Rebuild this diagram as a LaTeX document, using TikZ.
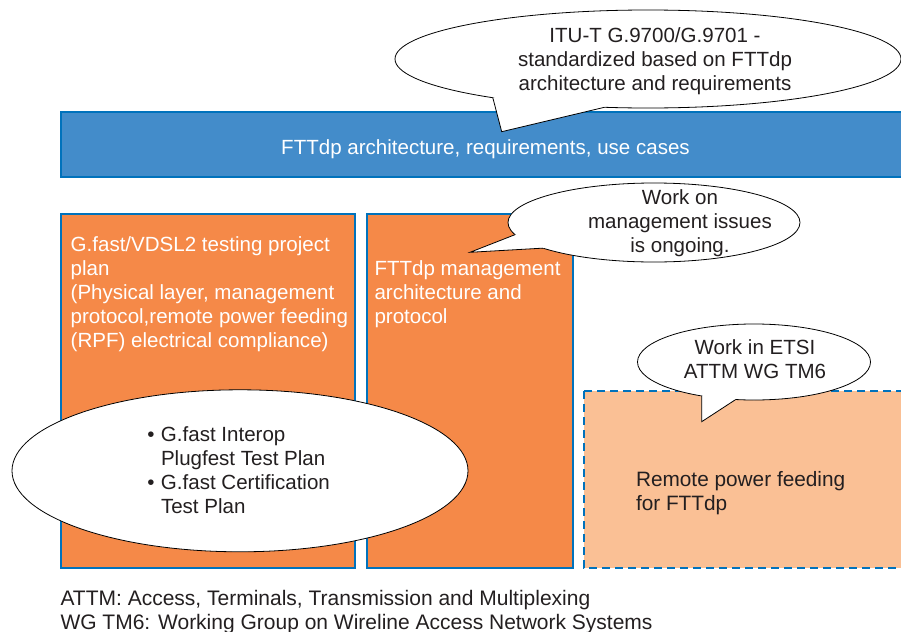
\documentclass[tikz,border=0pt]{standalone}
\usepackage{fontspec}
\setmainfont{Liberation Sans}
\usetikzlibrary{shapes.geometric}
\definecolor{orng}{RGB}{245,137,72}
\definecolor{lorng}{RGB}{250,192,149}
\definecolor{barblue}{RGB}{67,140,202}
\definecolor{bordblue}{RGB}{0,114,188}
\definecolor{darktext}{RGB}{35,31,32}
\begin{document}
\begin{tikzpicture}[x=0.75pt,y=-0.75pt,
  box/.style={draw=bordblue, line width=1.5pt, fill=orng},
  bubble/.style={ellipse, draw=black, line width=0.6pt, fill=white, inner sep=0pt, outer sep=0pt},
  tail/.style={draw=black, line width=0.6pt, line join=miter},
  txt/.style={font=\fontsize{15.4pt}{18pt}\selectfont, inner sep=0pt, outer sep=0pt},
  wtxt/.style={txt, text=white},
  dtxt/.style={txt, text=darktext}]
\useasboundingbox (0,0) rectangle (901,632);
\clip (0,0) rectangle (901,632);

% blue bar
\path[draw=bordblue, line width=1.5pt, fill=barblue] (61,112) rectangle (905,177);
\node[wtxt, anchor=base] (bartxt) at (485.5,154) {FTTdp architecture, requirements, use cases};

% top callout
\node[bubble, minimum width=379.5pt, minimum height=73.5pt] (c1) at (648,59) {};
\coordinate (c1tip) at (501.7,131.7);
\fill[white] (c1.194.1) -- (c1tip) -- (c1.228.9) -- (c1.center) -- cycle;
\draw[tail] (c1.194.1) -- (c1tip) -- (c1.228.9);
\node[dtxt, align=center, anchor=base] (c1txt) at (655,90) {ITU-T G.9700/G.9701 -\\standardized based on FTTdp\\architecture and requirements};

% orange boxes
\path[box] (61,214) rectangle (355,568);
\path[box] (367,214) rectangle (573,568);
\node[wtxt, align=left, anchor=base west] (lefttxt) at (70.7,347) {G.fast/VDSL2 testing project\\plan\\(Physical layer, management\\protocol,remote power feeding\\(RPF) electrical compliance)};
\node[wtxt, align=left, anchor=base west] (midtxt) at (374.5,323) {FTTdp management\\architecture and\\protocol};

% management callout
\node[bubble, minimum width=219pt, minimum height=59.25pt] (c2) at (654,222.5) {};
\coordinate (c2tip) at (470,252.3);
\fill[white] (c2.185.9) -- (c2tip) -- (c2.193.8) -- (c2.center) -- cycle;
\draw[tail] (c2.185.9) -- (c2tip) -- (c2.193.8);
\node[dtxt, align=center, anchor=base] (c2txt) at (680,252.7) {Work on\\management issues\\is ongoing.};

% dashed box
\path[draw=bordblue, line width=1.5pt, dash pattern=on 6pt off 3.75pt, fill=lorng] (584,391) rectangle (905,568);
\node[dtxt, align=left, anchor=base west, font=\fontsize{15.6pt}{18pt}\selectfont] (rpftxt) at (636,510.7) {Remote power feeding\\for FTTdp};

% ETSI callout
\node[bubble, minimum width=174.75pt, minimum height=57pt] (c3) at (754,362) {};
\coordinate (c3tip) at (701.7,421.7);
\fill[white] (c3.213.1) -- (c3tip) -- (c3.244.5) -- (c3.center) -- cycle;
\draw[tail] (c3.213.1) -- (c3tip) -- (c3.244.5);
\node[dtxt, align=center, anchor=base] (c3txt) at (755,378.3) {Work in ETSI\\ATTM WG TM6};

% big ellipse
\node[bubble, minimum width=342pt, minimum height=121.5pt] (c4) at (240,470.8) {};
\node[dtxt, align=left, anchor=base west] (c4txt) at (161,513.3) {\llap{•\hspace{4.8pt}}G.fast Interop\\Plugfest Test Plan\\\llap{•\hspace{4.8pt}}G.fast Certification\\Test Plan};

% footnote
\node[dtxt, align=left, anchor=base west, font=\fontsize{15.75pt}{17.6pt}\selectfont] (foot) at (60.5,629) {ATTM: Access, Terminals, Transmission and Multiplexing\\WG TM6: Working Group on Wireline Access Network Systems};
\end{tikzpicture}
\end{document}
